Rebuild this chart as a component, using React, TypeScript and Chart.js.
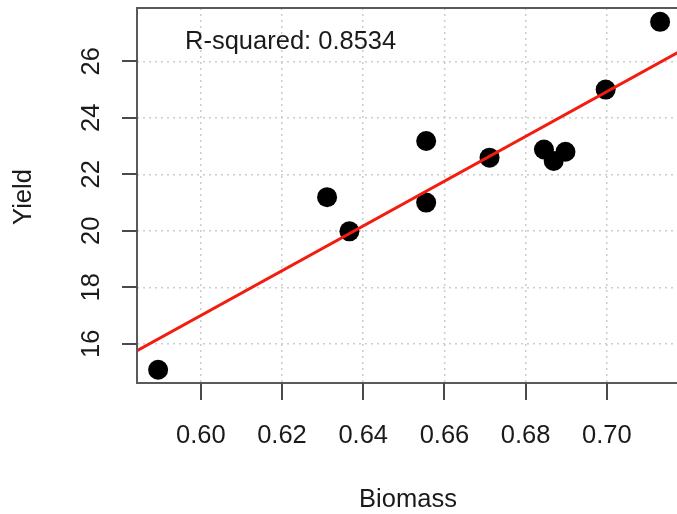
import React, { useEffect, useRef } from "react";
import { Chart, registerables } from "chart.js";

Chart.register(...registerables);

const biomass = [0.5895, 0.6311, 0.6366, 0.6555, 0.6555, 0.6711, 0.6845, 0.6869, 0.6898, 0.6997, 0.7131];
const yieldVals = [15.08, 21.19, 19.98, 23.18, 21.0, 22.59, 22.88, 22.47, 22.8, 25.0, 27.4];
const xTicks = [0.6, 0.62, 0.64, 0.66, 0.68, 0.7];
const yTicks = [16, 18, 20, 22, 24, 26];
const xLimits = [0.5843, 0.718];
const yLimits = [14.61, 27.89];
const rSquaredLabel = "R-squared: 0.8534";
const xTitle = "Biomass";
const yTitle = "Yield";

function fitLine(xs: number[], ys: number[]) {
  const n = xs.length;
  const mx = xs.reduce((a, b) => a + b, 0) / n;
  const my = ys.reduce((a, b) => a + b, 0) / n;
  let sxy = 0;
  let sxx = 0;
  for (let i = 0; i < n; i++) {
    sxy += (xs[i] - mx) * (ys[i] - my);
    sxx += (xs[i] - mx) * (xs[i] - mx);
  }
  const b = sxy / sxx;
  const a = my - b * mx;
  return { a, b };
}

const FONT = '"Liberation Sans", Arial, Helvetica, sans-serif';

const decorPlugin = {
  id: "rdecor",
  afterDatasetsDraw(chart: any) {
    const ctx = chart.ctx;
    const ca = chart.chartArea;
    const xs = chart.scales.x;
    const ys = chart.scales.y;
    ctx.save();
    // box
    ctx.strokeStyle = "#5a5a5a";
    ctx.lineWidth = 2;
    ctx.strokeRect(ca.left, ca.top, ca.right - ca.left, ca.bottom - ca.top);
    // tick marks
    ctx.strokeStyle = "#4a4a4a";
    ctx.lineWidth = 2;
    ctx.beginPath();
    xTicks.forEach((t) => {
      const px = Math.round(xs.getPixelForValue(t));
      ctx.moveTo(px, ca.bottom);
      ctx.lineTo(px, ca.bottom + 17);
    });
    yTicks.forEach((t) => {
      const py = Math.round(ys.getPixelForValue(t));
      ctx.moveTo(ca.left, py);
      ctx.lineTo(ca.left - 15, py);
    });
    ctx.stroke();
    ctx.fillStyle = "#1a1a1a";
    ctx.font = `25.5px ${FONT}`;
    ctx.textAlign = "center";
    ctx.textBaseline = "middle";
    xTicks.forEach((t) => {
      const px = xs.getPixelForValue(t);
      ctx.fillText(t.toFixed(2), px, 436);
    });
    yTicks.forEach((t) => {
      const py = ys.getPixelForValue(t);
      ctx.save();
      ctx.translate(92, py);
      ctx.rotate(-Math.PI / 2);
      ctx.fillText(String(t), 0, 0);
      ctx.restore();
    });
    // titles
    ctx.fillText(xTitle, 408, 500);
    ctx.save();
    ctx.translate(24, 197);
    ctx.rotate(-Math.PI / 2);
    ctx.fillText(yTitle, 0, 0);
    ctx.restore();
    // R-squared
    ctx.textAlign = "left";
    ctx.fillText(rSquaredLabel, 185, 42);
    ctx.restore();
  },
};

export default function App() {
  const ref = useRef<HTMLCanvasElement | null>(null);
  useEffect(() => {
    if (!ref.current) return;
    const fit = fitLine(biomass, yieldVals);
    const linePts = xLimits.map((x) => ({ x, y: fit.a + fit.b * x }));
    const gridOpts = {
      color: "#cccccc",
      lineWidth: 1.5,
      drawTicks: false,
    };
    const chart = new Chart(ref.current, {
      type: "scatter",
      data: {
        datasets: [
          {
            type: "line",
            data: linePts,
            borderColor: "#f21d0e",
            borderWidth: 3,
            pointRadius: 0,
            fill: false,
            order: 1,
          } as any,
          {
            data: biomass.map((x, i) => ({ x, y: yieldVals[i] })),
            backgroundColor: "#000000",
            borderColor: "#000000",
            pointRadius: 10,
            borderWidth: 0,
            order: 2,
          },
        ],
      },
      options: {
        animation: false,
        responsive: false,
        devicePixelRatio: 1,
        layout: { autoPadding: false, padding: { top: 8, right: 4, left: 0, bottom: 0 } },
        plugins: { legend: { display: false }, tooltip: { enabled: false } },
        scales: {
          x: {
            type: "linear",
            min: xLimits[0],
            max: xLimits[1],
            afterBuildTicks: (s: any) => {
              s.ticks = xTicks.map((v) => ({ value: v }));
            },
            afterFit: (s: any) => {
              s.height = 131;
            },
            ticks: { display: false },
            border: { display: false, dash: [2, 4] },
            grid: gridOpts,
          },
          y: {
            type: "linear",
            min: yLimits[0],
            max: yLimits[1],
            afterBuildTicks: (s: any) => {
              s.ticks = yTicks.map((v) => ({ value: v }));
            },
            afterFit: (s: any) => {
              s.width = 137;
            },
            ticks: { display: false },
            border: { display: false, dash: [2, 4] },
            grid: gridOpts,
          },
        },
      } as any,
      plugins: [decorPlugin],
    });
    return () => chart.destroy();
  }, []);
  return (
    <div
      style={{
        position: "fixed",
        left: 0,
        top: 0,
        width: 677,
        height: 514,
        overflow: "hidden",
        background: "#ffffff",
      }}
    >
      <canvas ref={ref} width={684} height={514} style={{ display: "block", width: 684, height: 514 }} />
    </div>
  );
}
